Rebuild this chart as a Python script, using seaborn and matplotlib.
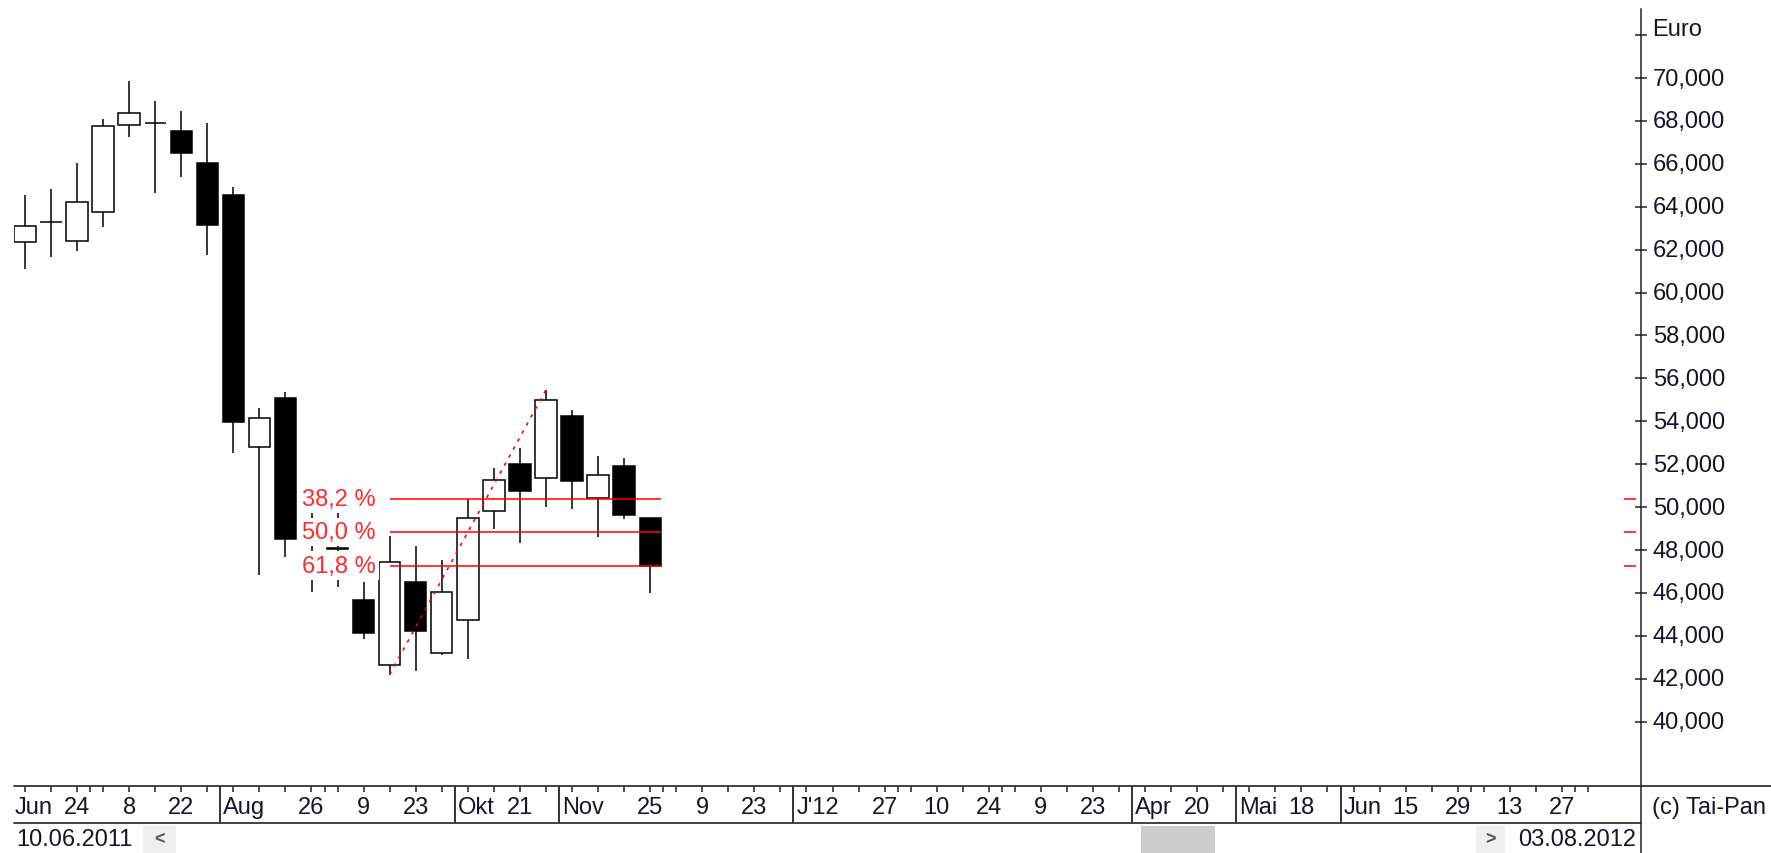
import numpy as np
import pandas as pd
import matplotlib
matplotlib.use('Agg')
import matplotlib.pyplot as plt
import matplotlib.dates as mdates
from matplotlib.patches import Rectangle
from matplotlib.lines import Line2D
from matplotlib.transforms import ScaledTranslation
import seaborn as sns

# weekly candles (Euro)
dates = pd.date_range('2011-06-10', periods=25, freq='7D')
opens = [62.34, 63.29, 62.42, 63.74, 67.82, 67.89, 67.52, 66.02, 64.55, 52.82,
         55.09, 47.10, 48.10, 45.69, 42.66, 46.53, 43.20, 44.73, 49.83, 52.01,
         51.34, 54.26, 50.43, 51.93, 49.49]
highs = [64.55, 64.83, 66.04, 68.09, 69.86, 68.91, 68.45, 67.90, 64.91, 54.62,
         55.38, 49.85, 49.75, 46.53, 48.67, 48.20, 47.54, 50.38, 51.82, 52.76,
         55.47, 54.54, 52.40, 52.30, 49.49]
lows = [61.10, 61.64, 61.92, 63.04, 67.27, 64.64, 65.40, 61.75, 52.52, 46.84,
        47.66, 46.05, 46.30, 43.85, 42.20, 42.35, 43.11, 42.92, 48.98, 48.33,
        49.99, 49.91, 48.62, 49.45, 46.00]
closes = [63.12, 63.30, 64.24, 67.78, 68.35, 67.90, 66.52, 63.16, 53.95, 54.14,
          48.52, 47.91, 48.03, 44.13, 47.44, 44.21, 46.03, 49.49, 51.27, 50.77,
          54.99, 51.23, 51.51, 49.63, 47.24]

fib_ratios = [0.382, 0.500, 0.618]
fib_labels = ['38,2 %', '50,0 %', '61,8 %']
swing_low_date = '2011-09-16'
swing_high_date = '2011-10-28'

y_ticks = list(range(40, 74, 2))

# date strip
week_ticks = pd.date_range('2011-06-10', '2012-08-03', freq='7D')
day_label_dates = ['2011-06-24', '2011-07-08', '2011-07-22', '2011-08-26', '2011-09-09',
                   '2011-09-23', '2011-10-21', '2011-11-25', '2011-12-09', '2011-12-23',
                   '2012-01-27', '2012-02-10', '2012-02-24', '2012-03-09', '2012-03-23',
                   '2012-04-20', '2012-05-18', '2012-06-15', '2012-06-29', '2012-07-13',
                   '2012-07-27']
month_sep = ['2011-08', '2011-10', '2011-11', '2012-01', '2012-04', '2012-05', '2012-06']
month_sep_labels = ['Aug', 'Okt', 'Nov', "J'12", 'Apr', 'Mai', 'Jun']
month_short = ['2011-07', '2011-09', '2011-12', '2012-02', '2012-03', '2012-07', '2012-08']

sns.set_theme(style='white')
plt.rcParams['font.family'] = ['Liberation Sans', 'DejaVu Sans']
FS = 17
TXT = '#15152a'

W, H = 1771, 854
fig = plt.figure(figsize=(W / 100, H / 100), dpi=100)
fig.patch.set_facecolor('white')

x = mdates.date2num(dates)
d0 = x[0]
ax = fig.add_axes([14 / W, 1 - 787 / H, (1641 - 14) / W, (787 - 10) / H])
ax.set_xlim(d0 - 0.42 * 7, d0 + 62.03 * 7)
ax.set_ylim(37.004, 73.216)

opens, highs, lows, closes = map(np.array, (opens, highs, lows, closes))
up = closes >= opens
ax.vlines(x, lows, highs, color='black', lw=1.1, zorder=2)
ax.bar(x, closes - opens, bottom=opens, width=0.82 * 7,
       color=np.where(up, 'white', 'black'), edgecolor='black', linewidth=1.1, zorder=3)

# fibonacci retracement
i_lo = list(dates).index(pd.Timestamp(swing_low_date))
i_hi = list(dates).index(pd.Timestamp(swing_high_date))
lo, hi = lows[i_lo], highs[i_hi]
levels = [hi - r * (hi - lo) for r in fib_ratios]
sns.lineplot(x=[x[i_lo], x[i_hi]], y=[lo, hi], ax=ax, color='red', lw=1.2,
             linestyle=(0, (2, 3.5)), zorder=4)
ax.hlines(levels, x[i_lo], x[-1] + 0.41 * 7, color='red', lw=1.1, zorder=4)
for lev, lab in zip(levels, fib_labels):
    ax.annotate(lab, xy=(x[i_lo], lev), xytext=(-14, 0), textcoords='offset pixels',
                ha='right', va='center', color='#ff2a2a', fontsize=FS, zorder=6,
                bbox=dict(fc='white', ec='none', pad=2.3))
ax.hlines(levels, 0.9895, 0.997, transform=ax.get_yaxis_transform(), color='red', lw=1.1)

ax.set_xlabel('')
ax.set_ylabel('')
ax.set_xticks([])
for s in ['left', 'top', 'bottom']:
    ax.spines[s].set_visible(False)
ax.spines['right'].set_color('#222222')
ax.spines['right'].set_linewidth(1.1)
ax.yaxis.tick_right()
ax.set_yticks(y_ticks)
ax.set_yticklabels(['' if v == 72 else f'{v:.3f}'.replace('.', ',') for v in y_ticks])
ax.tick_params(axis='y', direction='inout', length=8, width=1.1, pad=4.5,
               labelsize=FS, colors='#222222', labelcolor=TXT)
shift = ScaledTranslation(0, 2 / 100, fig.dpi_scale_trans)
for t in ax.get_yticklabels():
    t.set_transform(t.get_transform() + shift)
ax.annotate('Euro', xy=(1, 72), xycoords=('axes fraction', 'data'), xytext=(11, 6),
            textcoords='offset pixels', ha='left', va='center', fontsize=FS, color=TXT)
ax.grid(False)

# date strip
axd = fig.add_axes([14 / W, 1 - 824 / H, (1638 - 14) / W, (824 - 787) / H])
axd.set_xlim(d0 - 0.42 * 7, d0 + 61.92 * 7)
axd.set_ylim(0, 1)
axd.axis('off')
wk = mdates.date2num(week_ticks)
axd.vlines(wk, 0.83, 1, color='#222222', lw=1.1)


def month_pos(m):
    first = week_ticks[week_ticks.strftime('%Y-%m') == m][0]
    return mdates.date2num(first) - 3.5


axd.vlines([month_pos(m) for m in month_short], 0.83, 1, color='#222222', lw=1.1)
axd.vlines([month_pos(m) for m in month_sep], 0, 1, color='#222222', lw=1.3)
for m, lab in zip(month_sep, month_sep_labels):
    axd.annotate(lab, xy=(month_pos(m), 0.43), xytext=(3, 0), textcoords='offset pixels',
                 ha='left', va='center', fontsize=FS, color=TXT)
axd.text(1 / 1624, 0.43, 'Jun', transform=axd.transAxes, ha='left', va='center',
         fontsize=FS, color=TXT)
for d in day_label_dates:
    ts = pd.Timestamp(d)
    axd.text(mdates.date2num(ts), 0.43, str(ts.day), ha='center', va='center',
             fontsize=FS, color=TXT)

# frame lines and scroll bar (pixel coordinates)
bg = fig.add_axes([0, 0, 1, 1], zorder=10)
bg.set_xlim(0, W)
bg.set_ylim(H, 0)
bg.axis('off')
bg.add_line(Line2D([14, W], [787, 787], color='#333333', lw=1.3))
bg.add_line(Line2D([14, 1641], [824, 824], color='#333333', lw=1.3))
bg.add_line(Line2D([1641, 1641], [787, H], color='#222222', lw=1.1))
bg.text(1652, 808, '(c) Tai-Pan', ha='left', va='center', fontsize=FS, color=TXT)
bg.text(16, 840, '10.06.2011', ha='left', va='center', fontsize=FS, color=TXT)
bg.add_patch(Rectangle((143, 827), 33, 27, fc='#efefef', ec='none'))
bg.text(159.5, 840, '<', ha='center', va='center', fontsize=13, fontweight='bold', color='#555555')
bg.add_patch(Rectangle((1141, 827), 74, 27, fc='#cdcdcd', ec='none'))
bg.add_patch(Rectangle((1476, 827), 29, 27, fc='#efefef', ec='none'))
bg.text(1490.5, 840, '>', ha='center', va='center', fontsize=13, fontweight='bold', color='#555555')
bg.text(1636, 840, '03.08.2012', ha='right', va='center', fontsize=FS, color=TXT)

fig.savefig('out.png', dpi=100, facecolor='white')
